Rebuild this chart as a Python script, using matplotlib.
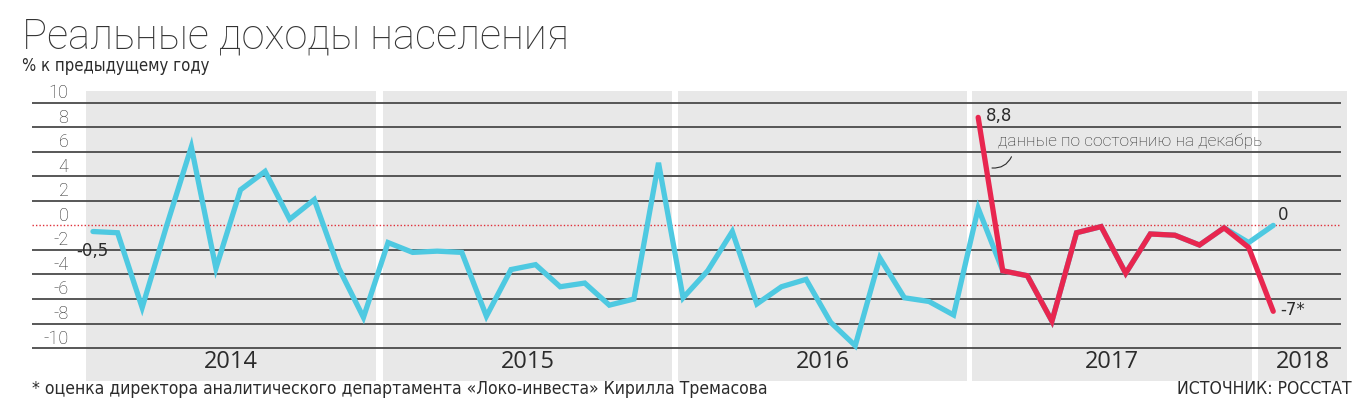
import matplotlib.pyplot as plt

# помесячные данные, янв 2014 - янв 2018
months = list(range(49))
income = [-0.5, -0.6, -6.7, 0.0, 6.4, -3.5, 2.9, 4.4, 0.5, 2.1, -3.5, -7.5,
          -1.4, -2.2, -2.1, -2.2, -7.4, -3.6, -3.2, -5.0, -4.7, -6.5, -6.0, 5.1,
          -5.9, -3.7, -0.5, -6.4, -5.0, -4.4, -7.9, -9.8, -2.65, -5.9, -6.2, -7.3,
          1.4, -3.7, -4.1, -7.8, -0.6, -0.1, -3.9, -0.7, -0.8, -1.6, -0.2, -1.4,
          0.0]
dec_months = list(range(36, 49))
income_dec = [8.8, -3.7, -4.1, -7.8, -0.6, -0.1, -3.9, -0.7, -0.8, -1.6, -0.2, -1.8,
              -7.0]
years = ['2014', '2015', '2016', '2017', '2018']
y_ticks = [10, 8, 6, 4, 2, 0, -2, -4, -6, -8, -10]

CYAN = '#4ec9e1'
RED = '#e8264f'
TXT = '#2b2b2b'
LIGHT = dict(family='Roboto', fontweight='light')
COND = dict(family='DejaVu Sans', fontstretch='condensed')

fig = plt.figure(figsize=(13.67, 4.16), dpi=100)
ax = fig.add_axes([32 / 1367, 35 / 416, 1315 / 1367, 290 / 416])
ax.set_xlim(-2.48, 51.0)
ax.set_ylim(-12.68, 10.95)
ax.axis('off')

# серые полосы по годам
bands = [(-0.3, 11.5), (11.8, 23.55), (23.8, 35.55), (35.75, 47.15), (47.4, 51.0)]
for (a, b), yr in zip(bands, years):
    ax.axvspan(a, b, color='#e8e8e8', lw=0, zorder=0)
    ax.text((a + b) / 2, -11.15, yr, ha='center', va='center', fontsize=17,
            color=TXT, family='Open Sans')

for v in y_ticks:
    if v == 0:
        ax.hlines(0, -2.48, 50.77, color='#e0303a', lw=1.0, linestyles=(0, (1, 1.5)), zorder=1)
    else:
        ax.hlines(v, -2.48, 50.77, color='#4a4a4a', lw=1.3, zorder=1)
    ax.text(-1.0, v + 0.78, str(v), ha='right', va='center', fontsize=13,
            color=TXT, **LIGHT)

ax.plot(months, income, color=CYAN, lw=3.8, solid_joinstyle='miter',
        solid_capstyle='round', zorder=3)
ax.plot(dec_months, income_dec, color=RED, lw=3.8, solid_joinstyle='miter',
        solid_capstyle='round', zorder=4)

ax.text(-0.7, -2.05, '-0,5', ha='left', va='center', fontsize=12, color=TXT)
ax.text(36.3, 8.9, '8,8', ha='left', va='center', fontsize=12, color=TXT)
ax.text(48.2, 0.85, '0', ha='left', va='center', fontsize=12, color=TXT)
ax.text(48.3, -6.9, '-7*', ha='left', va='center', fontsize=12, color=TXT)
ax.text(36.8, 6.9, 'данные по состоянию на декабрь', ha='left', va='center',
        fontsize=12.5, color=TXT, **LIGHT)
ax.annotate('', xy=(36.45, 4.7), xytext=(37.4, 5.8),
            arrowprops=dict(arrowstyle='-', color=TXT, lw=0.8,
                            connectionstyle='arc3,rad=-0.4'))

fig.text(22 / 1367, 1 - 37 / 416, 'Реальные доходы населения', ha='left', va='center',
         fontsize=30, color='#333333', **LIGHT)
fig.text(22 / 1367, 1 - 66 / 416, '% к предыдущему году', ha='left', va='center',
         fontsize=12, color=TXT, **COND)
fig.text(32 / 1367, 1 - 389 / 416,
         '* оценка директора аналитического департамента «Локо-инвеста» Кирилла Тремасова',
         ha='left', va='center', fontsize=12.6, color=TXT, **COND)
fig.text(1352 / 1367, 1 - 389 / 416, 'ИСТОЧНИК: РОССТАТ', ha='right', va='center',
         fontsize=12.6, color=TXT, **COND)

fig.savefig('out.png', dpi=100)
